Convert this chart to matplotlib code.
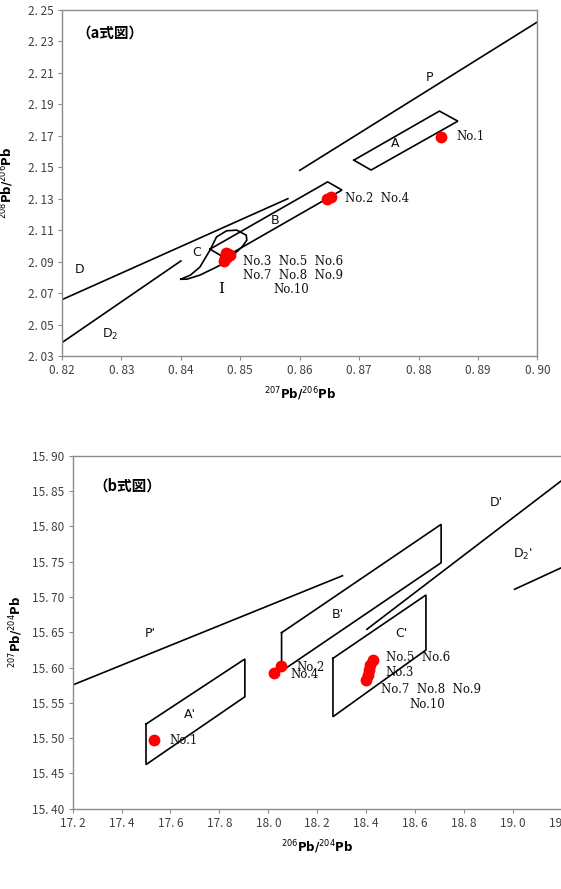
import matplotlib
matplotlib.use("Agg")
import matplotlib.pyplot as plt
import numpy as np

plt.rcParams['font.family'] = ['Noto Sans CJK JP', 'DejaVu Sans']

# ---------------- (a) 208Pb/206Pb vs 207Pb/206Pb ----------------
a_xticks = [0.82, 0.83, 0.84, 0.85, 0.86, 0.87, 0.88, 0.89, 0.90]
a_yticks = [2.03, 2.05, 2.07, 2.09, 2.11, 2.13, 2.15, 2.17, 2.19, 2.21, 2.23, 2.25]

a_p_x = [0.8600, 0.9000]
a_p_y = [2.1480, 2.2424]
a_d_x = [0.8200, 0.8580]
a_d_y = [2.0658, 2.1300]
a_d2_x = [0.8200, 0.8400]
a_d2_y = [2.0385, 2.0904]
a_boxA_x = [0.8691, 0.8720, 0.8866, 0.8835, 0.8691]
a_boxA_y = [2.1545, 2.1482, 2.1793, 2.1857, 2.1545]
a_boxB_x = [0.8449, 0.8647, 0.8671, 0.8473, 0.8449]
a_boxB_y = [2.0979, 2.1407, 2.1355, 2.0926, 2.0979]
a_regC_x = [0.8400, 0.8416, 0.8432, 0.8449, 0.8460, 0.8477, 0.8494, 0.8510,
            0.8511, 0.8503, 0.8488, 0.8477, 0.8455, 0.8432, 0.8410, 0.8400]
a_regC_y = [2.0788, 2.0814, 2.0865, 2.0973, 2.1057, 2.1096, 2.1100, 2.1068,
            2.1036, 2.0994, 2.0941, 2.0898, 2.0856, 2.0814, 2.0788, 2.0788]

a_samples_x = [0.8838, 0.8646, 0.8652, 0.8476, 0.8480, 0.8482, 0.8478, 0.8474, 0.8472, 0.8479]
a_samples_y = [2.1694, 2.1300, 2.1308, 2.0955, 2.0948, 2.0940, 2.0932, 2.0920, 2.0905, 2.0945]

a_region_labels = [("P", 0.8818, 2.2070), ("A", 0.8761, 2.1651), ("B", 0.8558, 2.1163),
                   ("C", 0.8426, 2.0957), ("D", 0.8230, 2.0850), ("D$_2$", 0.8281, 2.0438)]
a_sample_labels = [("No.1", 0.8864, 2.1694), ("No.2  No.4", 0.8676, 2.1302),
                   ("No.3  No.5  No.6", 0.8505, 2.0903), ("No.7  No.8  No.9", 0.8505, 2.0809),
                   ("No.10", 0.8556, 2.0725)]

# ---------------- (b) 207Pb/204Pb vs 206Pb/204Pb ----------------
b_xticks = [17.2, 17.4, 17.6, 17.8, 18.0, 18.2, 18.4, 18.6, 18.8, 19.0, 19.2]
b_yticks = [15.40, 15.45, 15.50, 15.55, 15.60, 15.65, 15.70, 15.75, 15.80, 15.85, 15.90]

b_p_x = [17.2000, 18.3029]
b_p_y = [15.5752, 15.7300]
b_d_x = [18.4025, 19.2016]
b_d_y = [15.6541, 15.8656]
b_d2_x = [19.0062, 19.2016]
b_d2_y = [15.7108, 15.7420]
b_boxA_x = [17.500, 17.904, 17.904, 17.500, 17.500]
b_boxA_y = [15.5199, 15.6121, 15.5586, 15.4625, 15.5199]
b_boxB_x = [18.054, 18.706, 18.706, 18.054, 18.054]
b_boxB_y = [15.6493, 15.8028, 15.7484, 15.5949, 15.6493]
b_boxC_x = [18.264, 18.644, 18.644, 18.264, 18.264]
b_boxC_y = [15.6130, 15.7027, 15.6248, 15.5303, 15.6130]

b_samples_x = [17.533, 18.0226, 18.0529, 18.4258, 18.4148, 18.4107, 18.4053, 18.3984]
b_samples_y = [15.498, 15.5918, 15.6021, 15.6106, 15.6035, 15.5964, 15.5893, 15.5822]

b_region_labels = [("P'", 17.518, 15.6475), ("A'", 17.681, 15.534), ("B'", 18.285, 15.6744),
                   ("C'", 18.5447, 15.6484), ("D'", 18.9316, 15.8334), ("D$_2$'", 19.0406, 15.7603)]
b_sample_labels = [("No.1", 17.5947, 15.4967), ("No.2", 18.1156, 15.5997), ("No.4", 18.0881, 15.5894),
                   ("No.5  No.6", 18.4803, 15.6144), ("No.3", 18.4803, 15.5926),
                   ("No.7  No.8  No.9", 18.4598, 15.5691), ("No.10", 18.5758, 15.5483)]

SPINE = '#8c8c8c'
TICKC = '#404040'


def style_axes(ax, xticks, yticks, xfmt, yfmt):
    ax.set_xticks(xticks)
    ax.set_yticks(yticks)
    ax.set_xticklabels([xfmt(v) for v in xticks])
    ax.set_yticklabels([yfmt(v) for v in yticks])
    ax.tick_params(direction='out', length=3, width=0.8, colors=SPINE,
                   labelcolor=TICKC, labelsize=8.5, pad=3)
    for s in ax.spines.values():
        s.set_color(SPINE)
        s.set_linewidth(1.0)


def draw(ax, lines, samples, region_labels, sample_labels):
    for xs, ys in lines:
        ax.plot(xs, ys, color='black', lw=1.2, solid_joinstyle='miter', clip_on=True)
    ax.plot(samples[0], samples[1], 'o', color='#ff0000', ms=8.5, mec='none')
    for t, x, y in region_labels:
        ax.text(x, y, t, fontsize=9, ha='center', va='center', family=['DejaVu Sans'], color='#111111')
    for t, x, y in sample_labels:
        ax.text(x, y, t, fontsize=8.5, ha='left', va='center', family=['DejaVu Serif'], color='#111111')


fig = plt.figure(figsize=(5.61, 8.89), dpi=100)

ax1 = fig.add_axes([0.1105, 0.5996, 0.8476, 0.3892])
draw(ax1, [(a_p_x, a_p_y), (a_d_x, a_d_y), (a_d2_x, a_d2_y), (a_boxA_x, a_boxA_y),
           (a_boxB_x, a_boxB_y), (a_regC_x, a_regC_y)],
     (a_samples_x, a_samples_y), a_region_labels, a_sample_labels)
ax1.text(0.8467, 2.0724, "I", fontsize=11, ha='center', va='center', family=['DejaVu Serif'])
ax1.set_xlim(0.82, 0.90)
ax1.set_ylim(2.03, 2.25)
style_axes(ax1, a_xticks, a_yticks, lambda v: f"{v:.2f}".replace(".", ". "),
           lambda v: f"{v:.2f}".replace(".", ". "))
ax1.text(0.03, 0.935, "（a式図）", transform=ax1.transAxes, fontsize=10.5,
         fontweight='bold', ha='left', va='center')
ax1.set_xlabel(r"$^{207}$Pb/$^{206}$Pb", fontsize=8.5, fontweight='bold', family=['DejaVu Sans'])
ax1.set_ylabel(r"$^{208}$Pb/$^{206}$Pb", fontsize=8.5, fontweight='bold', family=['DejaVu Sans'])
ax1.xaxis.set_label_coords(0.5, -0.085)
ax1.yaxis.set_label_coords(-0.097, 0.5)

ax2 = fig.add_axes([0.1294, 0.0903, 0.8724, 0.3971])
draw(ax2, [(b_p_x, b_p_y), (b_d_x, b_d_y), (b_d2_x, b_d2_y), (b_boxA_x, b_boxA_y),
           (b_boxB_x, b_boxB_y), (b_boxC_x, b_boxC_y)],
     (b_samples_x, b_samples_y), b_region_labels, b_sample_labels)
ax2.set_xlim(17.2, 19.2)
ax2.set_ylim(15.40, 15.90)
style_axes(ax2, b_xticks, b_yticks, lambda v: f"{v:.1f}".replace(".", ". "),
           lambda v: f"{v:.2f}".replace(".", ". "))
ax2.text(0.043, 0.915, "（b式図）", transform=ax2.transAxes, fontsize=10.5,
         fontweight='bold', ha='left', va='center')
ax2.set_xlabel(r"$^{206}$Pb/$^{204}$Pb", fontsize=8.5, fontweight='bold', family=['DejaVu Sans'])
ax2.set_ylabel(r"$^{207}$Pb/$^{204}$Pb", fontsize=8.5, fontweight='bold', family=['DejaVu Sans'])
ax2.xaxis.set_label_coords(0.5, -0.083)
ax2.yaxis.set_label_coords(-0.097, 0.5)

fig.savefig("out.png", dpi=100)
